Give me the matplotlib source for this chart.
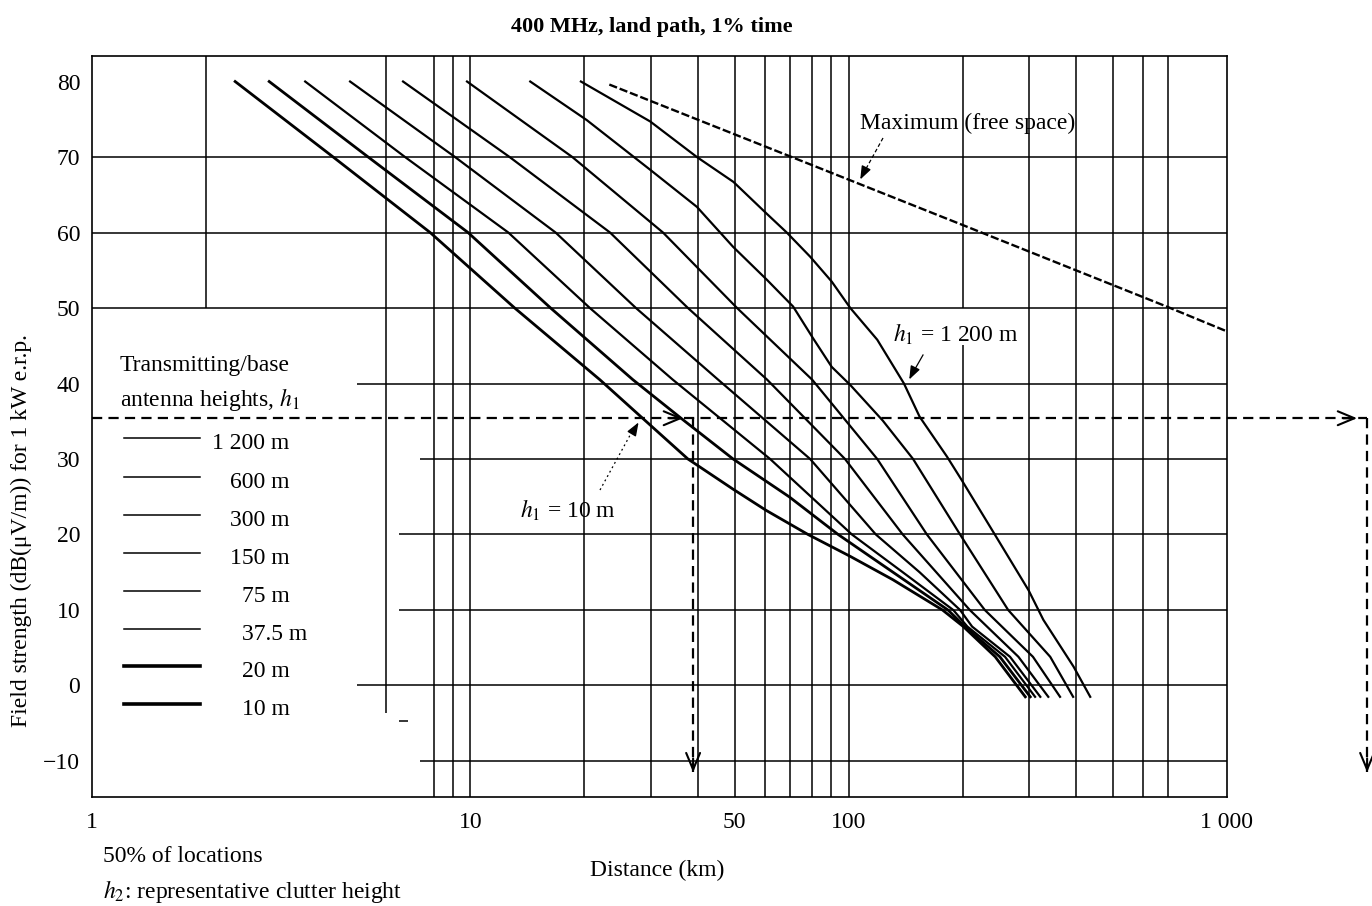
import matplotlib
matplotlib.use('Agg')
import matplotlib.pyplot as plt
from matplotlib.lines import Line2D

plt.rcParams['font.family'] = ['Liberation Serif', 'DejaVu Serif']
plt.rcParams['mathtext.fontset'] = 'stix'
plt.rcParams['font.size'] = 17

# ---------------- data (distance km, field strength dB(uV/m)) ----------------
d_1200 = [19.6, 29.9, 39.7, 49.6, 60.7, 68.6, 79.1, 90.2, 101, 119, 140, 154, 182, 199, 242, 299, 327, 393, 435]
e_1200 = [80, 74.7, 70.0, 66.7, 62.5, 60.0, 56.8, 53.5, 50.0, 45.8, 40.0, 35.6, 30.3, 27.2, 20.2, 12.6, 8.7, 2.5, -1.5]

d_600 = [14.4, 20.3, 29.9, 39.7, 49.5, 60.9, 71.3, 80.5, 90.2, 101, 123, 148, 197, 264, 341, 392]
e_600 = [80, 74.9, 68.3, 63.4, 58.1, 53.7, 50.2, 46.0, 42.2, 39.8, 35.1, 30, 20, 10, 3.8, -1.5]

d_300 = [9.80, 18.6, 32.3, 50.7, 80.1, 119, 161, 229, 307, 362]
e_300 = [80, 70, 60, 50, 40.5, 30, 20, 10, 3.8, -1.5]

d_150 = [6.64, 12.7, 23.4, 37.6, 60.9, 97.8, 139, 209, 281, 337]
e_150 = [80, 70, 60, 50, 40.5, 30, 20, 10, 3.8, -1.5]

d_75 = [4.81, 9.11, 16.8, 27.4, 45.2, 79.1, 118, 154, 197, 212, 267, 321]
e_75 = [80, 70, 60, 50, 40.5, 30, 20, 15, 10, 7.8, 3.8, -1.5]

d_37 = [3.66, 6.72, 12.6, 20.7, 34.3, 62.0, 102, 139, 189, 206, 259, 311]
e_37 = [80, 70, 60, 50, 40.5, 30, 20, 15, 10, 7.8, 3.8, -1.5]

d_20 = [2.94, 5.37, 9.86, 16.3, 26.9, 36.9, 49.5, 69.6, 93.8, 131, 183, 203, 251, 302]
e_20 = [80, 70, 60, 50, 40.5, 35, 30, 25, 20, 15, 10, 7.8, 3.8, -1.5]

d_10 = [2.39, 4.34, 7.83, 13.1, 22.0, 28.1, 37.6, 49.5, 60.5, 78.1, 101, 131, 177, 201, 244, 293]
e_10 = [80, 70, 60, 50, 40.5, 35.7, 30, 26, 23.2, 20, 17.1, 14, 10, 7.8, 3.8, -1.5]

d_free = [23.3, 100, 200, 700, 1000]
e_free = [79.6, 67.0, 61.0, 50.1, 46.9]

heights = ['1 200 m', '600 m', '300 m', '150 m', '75 m', '37.5 m', '20 m', '10 m']

# reading example (dashed construction lines)
read_km = 38.8
read_db = 35.4
read_far_km = 2346
read_bottom_db = -11.5

x_ticks = [1, 10, 50, 100, 1000]
x_ticklabels = ['1', '10', '50', '100', '1 000']
y_ticks = [-10, 0, 10, 20, 30, 40, 50, 60, 70, 80]

# ---------------- figure ----------------
W, H = 1372, 906
fig = plt.figure(figsize=(W / 100, H / 100), dpi=100)
L, R, T, B = 92, 1227, 55.7, 797
ax = fig.add_axes([L / W, 1 - B / H, (R - L) / W, (B - T) / H])
ax.set_xscale('log')
YMIN, YMAX = -14.77, 83.42
ax.set_xlim(1, 1000)
ax.set_ylim(YMIN, YMAX)


def P(px, py):
    return (px / W, 1 - py / H)


gkw = dict(color='black', lw=1.1, zorder=1)
# vertical grid
ax.vlines([8, 9, 10, 20, 30, 40, 50, 60, 70, 80, 90, 100, 300, 400, 500, 600, 700],
          YMIN, YMAX, **gkw)
ax.vlines([2], 50, YMAX, **gkw)
ax.vlines([6], -3.6, YMAX, **gkw)
ax.vlines([200], 50, YMAX, **gkw)
ax.vlines([200], YMIN, 45.1, **gkw)
# horizontal grid
ax.hlines([70, 60, 50], 1, 1000, **gkw)
ax.hlines([40, 0], 5.02, 1000, **gkw)
ax.hlines([20, 10], 6.48, 1000, **gkw)
ax.hlines([30, -10], 7.36, 1000, **gkw)
ax.hlines([-4.7], 6.48, 6.84, **gkw)

for s in ax.spines.values():
    s.set_linewidth(1.2)

# curves
curves = [(d_1200, e_1200, 1.6), (d_600, e_600, 1.6), (d_300, e_300, 1.6),
          (d_150, e_150, 1.6), (d_75, e_75, 1.6), (d_37, e_37, 1.6),
          (d_20, e_20, 2.0), (d_10, e_10, 2.0)]
for d, e, lw in curves:
    ax.plot(d, e, color='black', lw=lw, zorder=3, solid_joinstyle='round')

ax.plot(d_free, e_free, color='black', lw=1.7, linestyle=(0, (3.5, 1.2)), zorder=3)

# ticks
ax.set_xticks(x_ticks)
ax.set_xticklabels(x_ticklabels)
ax.xaxis.set_minor_locator(matplotlib.ticker.NullLocator())
ax.set_yticks(y_ticks)
ax.tick_params(axis='both', length=0, labelsize=17)
ax.tick_params(axis='x', pad=11)
ax.tick_params(axis='y', pad=8.5)

# dashed construction lines
dkw = dict(color='black', lw=1.6, linestyle=(0, (4.6, 2.8)), zorder=4, clip_on=False)
ax.plot([1, read_far_km], [read_db, read_db], **dkw)
ax.plot([read_km, read_km], [read_db, read_bottom_db], **dkw)
ax.plot([read_far_km, read_far_km], [read_db, read_bottom_db], **dkw)

akw = dict(arrowstyle='->,head_length=12,head_width=5', lw=1.5, color='black',
           shrinkA=0, shrinkB=0, mutation_scale=1)
ax.annotate('', xy=(36.5, read_db), xytext=(-10, 0), textcoords='offset points',
            arrowprops=akw, annotation_clip=False)
ax.annotate('', xy=(2208, read_db), xytext=(-10, 0), textcoords='offset points',
            arrowprops=akw, annotation_clip=False)
ax.annotate('', xy=(read_km, read_bottom_db), xytext=(0, 10), textcoords='offset points',
            arrowprops=akw, annotation_clip=False)
ax.annotate('', xy=(read_far_km, read_bottom_db), xytext=(0, 10), textcoords='offset points',
            arrowprops=akw, annotation_clip=False)

# ---------------- texts ----------------
def txt(px, py, s, **kw):
    kw.setdefault('va', 'baseline')
    kw.setdefault('ha', 'left')
    fig.text(*P(px, py), s, **kw)

txt(652, 32, '400 MHz, land path, 1% time', ha='center', fontweight='bold', fontsize=16)
fig.text(*P(21, 531), 'Field strength (dB(μV/m)) for 1 kW e.r.p.', rotation=90,
         ha='center', va='center', fontsize=17)
txt(657, 876, 'Distance (km)', ha='center')
txt(103, 862, '50% of locations')
txt(103, 898, r'$h_2$: representative clutter height')
txt(120, 371, 'Transmitting/base')
txt(120, 406, r'antenna heights, $h_1$')
txt(860, 129, 'Maximum (free space)')
txt(893, 342, r'$h_1$ = 1 200 m')
txt(520, 518, r'$h_1$ = 10 m')

# legend
leg_y = [438, 477, 515, 553, 591, 629, 666, 704]
leg_x = [212, 230, 230, 230, 242, 242, 242, 242]
leg_lw = [1.1, 1.1, 1.1, 1.1, 1.1, 1.1, 2.6, 2.6]
for lab, y, x0, lw in zip(heights, leg_y, leg_x, leg_lw):
    fx0, fy = P(124, y)
    fx1, _ = P(200, y)
    fig.add_artist(Line2D([fx0, fx1], [fy, fy], color='black', lw=lw,
                          transform=fig.transFigure))
    txt(x0, y + 11, lab)

# annotation leaders
def leader(p0, p1, ls):
    (x0, y0), (x1, y1) = P(*p0), P(*p1)
    fig.add_artist(Line2D([x0, x1], [y0, y1], color='black', lw=0.9, linestyle=ls,
                          transform=fig.transFigure))

leader((883, 138), (862, 176), (0, (3, 2)))
fig.add_artist(matplotlib.patches.FancyArrowPatch(P(864, 172), P(859, 182),
               transform=fig.transFigure, arrowstyle='-|>,head_length=8,head_width=3',
               mutation_scale=1, color='black', lw=1))
leader((923, 355), (911, 376), '-')
fig.add_artist(matplotlib.patches.FancyArrowPatch(P(913, 372), P(908, 382),
               transform=fig.transFigure, arrowstyle='-|>,head_length=8,head_width=3',
               mutation_scale=1, color='black', lw=1))
leader((600, 490), (634, 428), (0, (1.5, 2.5)))
fig.add_artist(matplotlib.patches.FancyArrowPatch(P(634, 430), P(640, 420),
               transform=fig.transFigure, arrowstyle='-|>,head_length=8,head_width=3',
               mutation_scale=1, color='black', lw=1))

fig.savefig('out.png', dpi=100, facecolor='white')
